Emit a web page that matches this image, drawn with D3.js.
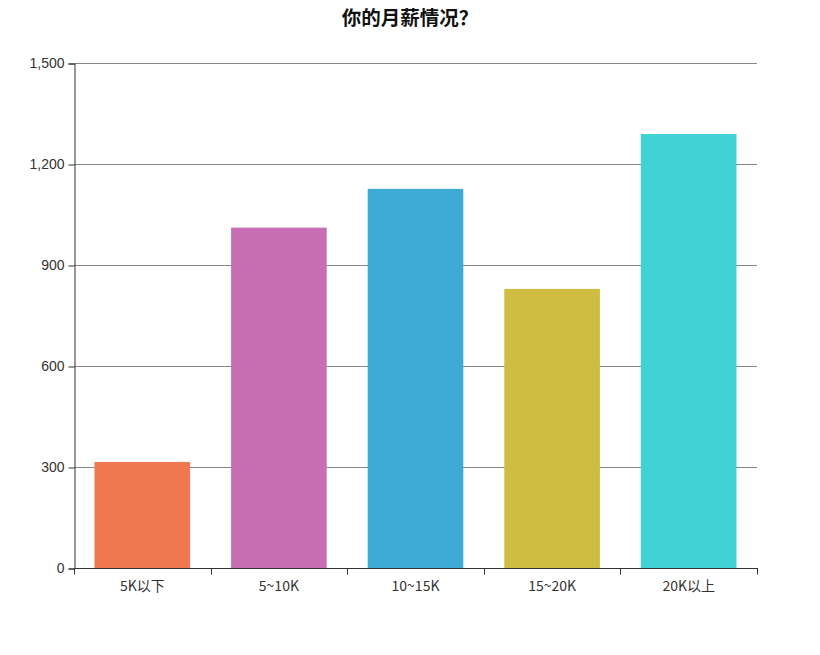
<!DOCTYPE html>
<meta charset="utf-8">
<style>
body{ margin:0; background:#fff; font-family:"Noto Sans CJK SC","Noto Sans",sans-serif; }
.tick text{ font-size:14px; fill:#333; }
</style>
<body>
<script src="https://d3js.org/d3.v7.min.js"></script>
<script>
// data
var categories = ["5K以下", "5~10K", "10~15K", "15~20K", "20K以上"];
var counts = [315, 1011, 1126, 829, 1289];
var barColors = ["#F07850", "#C86EB4", "#3FA9D6", "#CFBD43", "#40D3D5"];
var yTicks = [0, 300, 600, 900, 1200, 1500];
var title = "你的月薪情况？";

var w = 820, h = 655;
var plotLeft = 74, plotRight = 757, plotTop = 63, plotBottom = 568;

var svg = d3.select("body").append("svg")
  .attr("width", w)
  .attr("height", h);

svg.append("text")
  .attr("x", 410)
  .attr("y", 25)
  .attr("text-anchor", "middle")
  .style("font-size", "19.5px")
  .style("font-weight", "bold")
  .attr("fill", "#111")
  .text(title);

var x = d3.scaleBand()
  .domain(categories)
  .range([plotLeft, plotRight])
  .paddingInner(0.3)
  .paddingOuter(0.15);

var y = d3.scaleLinear()
  .domain([0, 1500])
  .range([plotBottom, plotTop]);

// grid lines
svg.append("g")
  .selectAll("line")
  .data(yTicks.filter(function(d){ return d > 0; }))
  .enter().append("line")
  .attr("x1", plotLeft)
  .attr("x2", plotRight)
  .attr("y1", function(d){ return y(d) + 0.5; })
  .attr("y2", function(d){ return y(d) + 0.5; })
  .attr("stroke", "#888")
  .attr("stroke-width", 1.2);

// bars
svg.append("g")
  .selectAll("rect")
  .data(counts)
  .enter().append("rect")
  .attr("x", function(d, i){ return x(categories[i]); })
  .attr("y", function(d){ return y(d); })
  .attr("width", x.bandwidth())
  .attr("height", function(d){ return plotBottom - y(d); })
  .attr("fill", function(d, i){ return barColors[i]; });

// y axis
var yAxis = svg.append("g")
  .attr("transform", "translate(" + (plotLeft + 0.5) + ",0.5)")
  .call(d3.axisLeft(y).tickValues(yTicks).tickFormat(d3.format(",")).tickSizeOuter(0).tickSize(6).tickPadding(4));
yAxis.selectAll("path, line").attr("stroke", "#333");

// x axis with ticks at band edges
var xAxis = svg.append("g")
  .attr("transform", "translate(0," + (plotBottom + 0.5) + ")");
xAxis.append("line")
  .attr("x1", plotLeft)
  .attr("x2", plotRight + 1)
  .attr("stroke", "#333")
  .attr("stroke-width", 1.2);
var edges = categories.map(function(c){ return x(c) - x.step() * x.paddingInner() / 2; });
edges.push(plotRight);
xAxis.selectAll(".edge")
  .data(edges)
  .enter().append("line")
  .attr("class", "edge")
  .attr("x1", function(d){ return Math.round(d) + 0.5; })
  .attr("x2", function(d){ return Math.round(d) + 0.5; })
  .attr("y1", 0)
  .attr("y2", 6)
  .attr("stroke", "#333");
xAxis.selectAll(".lbl")
  .data(categories)
  .enter().append("text")
  .attr("class", "lbl")
  .attr("x", function(d){ return x(d) + x.bandwidth() / 2; })
  .attr("y", 22)
  .attr("text-anchor", "middle")
  .style("font-size", "14px")
  .attr("fill", "#333")
  .text(function(d){ return d; });
</script>
</body>
